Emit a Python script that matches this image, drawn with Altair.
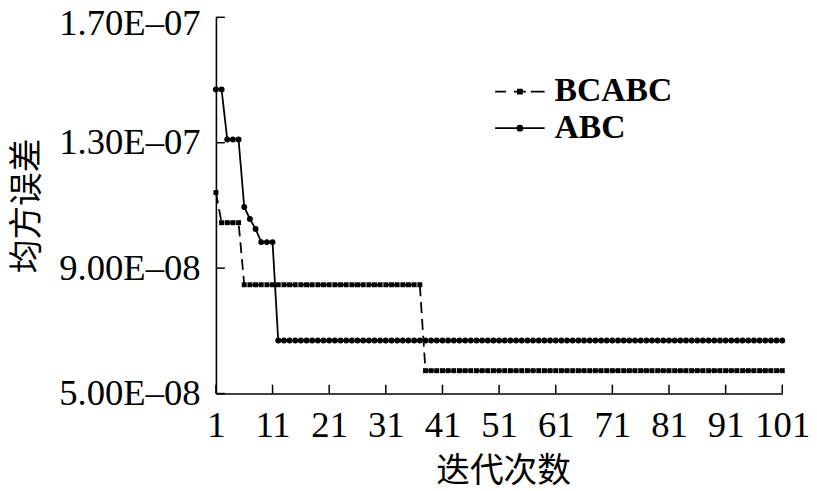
import altair as alt
import pandas as pd

# iterations (category positions on the x axis)
iterations = list(range(1, 102))

# mean squared error
abc_values = [
    1.47e-7, 1.47e-7, 1.31e-7, 1.31e-7, 1.31e-7, 1.095e-7, 1.057e-7, 1.025e-7, 9.83e-8, 9.83e-8,
    9.83e-8, 6.69e-8, 6.69e-8, 6.69e-8, 6.69e-8, 6.69e-8, 6.69e-8, 6.69e-8, 6.69e-8, 6.69e-8,
    6.69e-8, 6.69e-8, 6.69e-8, 6.69e-8, 6.69e-8, 6.69e-8, 6.69e-8, 6.69e-8, 6.69e-8, 6.69e-8,
    6.69e-8, 6.69e-8, 6.69e-8, 6.69e-8, 6.69e-8, 6.69e-8, 6.69e-8, 6.69e-8, 6.69e-8, 6.69e-8,
    6.69e-8, 6.69e-8, 6.69e-8, 6.69e-8, 6.69e-8, 6.69e-8, 6.69e-8, 6.69e-8, 6.69e-8, 6.69e-8,
    6.69e-8, 6.69e-8, 6.69e-8, 6.69e-8, 6.69e-8, 6.69e-8, 6.69e-8, 6.69e-8, 6.69e-8, 6.69e-8,
    6.69e-8, 6.69e-8, 6.69e-8, 6.69e-8, 6.69e-8, 6.69e-8, 6.69e-8, 6.69e-8, 6.69e-8, 6.69e-8,
    6.69e-8, 6.69e-8, 6.69e-8, 6.69e-8, 6.69e-8, 6.69e-8, 6.69e-8, 6.69e-8, 6.69e-8, 6.69e-8,
    6.69e-8, 6.69e-8, 6.69e-8, 6.69e-8, 6.69e-8, 6.69e-8, 6.69e-8, 6.69e-8, 6.69e-8, 6.69e-8,
    6.69e-8, 6.69e-8, 6.69e-8, 6.69e-8, 6.69e-8, 6.69e-8, 6.69e-8, 6.69e-8, 6.69e-8, 6.69e-8,
    6.69e-8,
]

bcabc_values = [
    1.141e-7, 1.045e-7, 1.045e-7, 1.045e-7, 1.045e-7, 8.47e-8, 8.47e-8, 8.47e-8, 8.47e-8, 8.47e-8,
    8.47e-8, 8.47e-8, 8.47e-8, 8.47e-8, 8.47e-8, 8.47e-8, 8.47e-8, 8.47e-8, 8.47e-8, 8.47e-8,
    8.47e-8, 8.47e-8, 8.47e-8, 8.47e-8, 8.47e-8, 8.47e-8, 8.47e-8, 8.47e-8, 8.47e-8, 8.47e-8,
    8.47e-8, 8.47e-8, 8.47e-8, 8.47e-8, 8.47e-8, 8.47e-8, 8.47e-8, 5.73e-8, 5.73e-8, 5.73e-8,
    5.73e-8, 5.73e-8, 5.73e-8, 5.73e-8, 5.73e-8, 5.73e-8, 5.73e-8, 5.73e-8, 5.73e-8, 5.73e-8,
    5.73e-8, 5.73e-8, 5.73e-8, 5.73e-8, 5.73e-8, 5.73e-8, 5.73e-8, 5.73e-8, 5.73e-8, 5.73e-8,
    5.73e-8, 5.73e-8, 5.73e-8, 5.73e-8, 5.73e-8, 5.73e-8, 5.73e-8, 5.73e-8, 5.73e-8, 5.73e-8,
    5.73e-8, 5.73e-8, 5.73e-8, 5.73e-8, 5.73e-8, 5.73e-8, 5.73e-8, 5.73e-8, 5.73e-8, 5.73e-8,
    5.73e-8, 5.73e-8, 5.73e-8, 5.73e-8, 5.73e-8, 5.73e-8, 5.73e-8, 5.73e-8, 5.73e-8, 5.73e-8,
    5.73e-8, 5.73e-8, 5.73e-8, 5.73e-8, 5.73e-8, 5.73e-8, 5.73e-8, 5.73e-8, 5.73e-8, 5.73e-8,
    5.73e-8,
]

series_names = ["BCABC", "ABC"]
x_ticks = [1, 11, 21, 31, 41, 51, 61, 71, 81, 91, 101]
y_ticks = [5.0e-8, 9.0e-8, 1.3e-7, 1.7e-7]

df = pd.DataFrame({
    "iter": iterations + iterations,
    "mse": bcabc_values + abc_values,
    "series": [series_names[0]] * len(iterations) + [series_names[1]] * len(iterations),
})
df_abc = df[df["series"] == "ABC"]
df_bc = df[df["series"] == "BCABC"]
xt_df = pd.DataFrame({"iter": x_ticks})
yt_df = pd.DataFrame({"mse": y_ticks})

SERIF = "Liberation Serif"
CJK = "Noto Sans CJK SC"

x_enc = alt.X(
    "iter:Q",
    scale=alt.Scale(domain=[1, 101], nice=False, zero=False),
    axis=alt.Axis(
        values=x_ticks, format="d", title="迭代次数",
        titleFont=CJK, titleFontSize=34, titleFontWeight="normal", titleColor="black",
        titlePadding=12, titleX=290,
        labelFont=SERIF, labelFontSize=37, labelColor="black", labelPadding=14,
        labelFlush=False, labelOverlap=False,
        ticks=False, tickSize=0, grid=False,
        domainColor="black", domainWidth=1.6,
    ),
)
y_enc = alt.Y(
    "mse:Q",
    scale=alt.Scale(domain=[5.0e-8, 1.7e-7], nice=False, zero=False),
    axis=alt.Axis(
        values=y_ticks, title="均方误差",
        labelExpr="replace(upper(format(datum.value, '.2e')), 'E-', 'E\u20130')",
        labelOffset={"condition": {"test": "datum.value > 1.6e-7", "value": 6}, "value": 0},
        titleFont=CJK, titleFontSize=34, titleFontWeight="normal", titleColor="black",
        titlePadding=14,
        labelFont=SERIF, labelFontSize=37, labelColor="black", labelPadding=16,
        labelFlush=False, labelOverlap=False,
        ticks=False, tickSize=0, grid=False,
        domainColor="black", domainWidth=1.6,
    ),
)

abc_line = alt.Chart(df_abc).mark_line(color="black", strokeWidth=1.8).encode(x=x_enc, y=y_enc)
bc_line = alt.Chart(df_bc).mark_line(color="black", strokeWidth=1.8, strokeDash=[11, 6]).encode(x=x_enc, y=y_enc)
abc_pts = alt.Chart(df_abc).mark_point(shape="circle", filled=True, color="black", size=36, opacity=1).encode(x=x_enc, y=y_enc)
bc_pts = alt.Chart(df_bc).mark_point(shape="square", filled=True, color="black", size=25, opacity=1).encode(x=x_enc, y=y_enc)

bc_sym = ("M-5,0L-2.8,0M-1.2,0L1.2,0M2.2,0L5,0"
          "M-0.4,-0.4L0.4,-0.4L0.4,0.4L-0.4,0.4Z"
          "M-0.15,-0.15L0.15,-0.15L0.15,0.15L-0.15,0.15Z")
abc_sym = ("M-5,0L5,0"
           "M-0.5,0A0.5,0.5,0,1,0,0.5,0A0.5,0.5,0,1,0,-0.5,0Z"
           "M-0.2,0A0.2,0.2,0,1,0,0.2,0A0.2,0.2,0,1,0,-0.2,0Z")

legend_layer = alt.Chart(df).mark_point(filled=False, color="black", strokeWidth=1.8, opacity=0).encode(
    x=x_enc, y=y_enc,
    shape=alt.Shape(
        "series:N",
        scale=alt.Scale(domain=series_names, range=[bc_sym, abc_sym]),
        legend=alt.Legend(
            title=None, orient="none", legendX=290, legendY=58,
            symbolSize=100, symbolStrokeWidth=1.8,
            symbolStrokeColor="black", symbolOpacity=1,
            labelFont=SERIF, labelFontSize=34, labelFontWeight="bold", labelColor="black",
            labelOffset=18, rowPadding=3, padding=0,
        ),
    ),
)

y_tick_rules = alt.Chart(yt_df).mark_rule(color="black", strokeWidth=1.5).encode(
    y=y_enc, x=alt.value(0), x2=alt.value(9)
)
x_tick_rules = alt.Chart(xt_df).mark_rule(color="black", strokeWidth=1.5).encode(
    x=x_enc, y=alt.value(380), y2=alt.value(371)
)

chart = alt.layer(
    abc_line, bc_line, abc_pts, bc_pts, legend_layer, y_tick_rules, x_tick_rules
).properties(
    width=572, height=380,
    autosize=alt.AutoSizeParams(type="none"),
    padding={"left": 210, "top": 7, "right": 27, "bottom": 95},
    background="white",
).configure_view(stroke=None)

chart.save("out.html", embed_options={"renderer": "svg", "actions": False})
